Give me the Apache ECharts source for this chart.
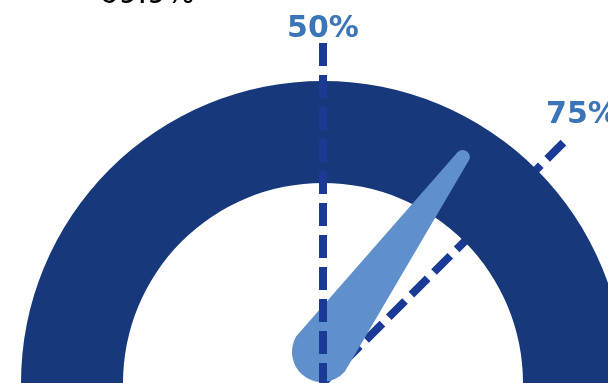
<!DOCTYPE html>
<html>
<head>
<meta charset="utf-8">
<script src="https://cdn.jsdelivr.net/npm/echarts@6/dist/echarts.min.js"></script>
<style>
html, body { margin: 0; padding: 0; background: #fff; }
#chart { width: 608px; height: 383px; }
</style>
</head>
<body>
<div id="chart"></div>
<script>
// gauge scale and values
var gaugeMin = 0;
var gaugeMax = 100;
var needleValue = [69.9];
var markValues = [50, 75];
var markLabels = ['50%', '75%'];

var center = [323, 383];
// tapered needle with round ends (tip at top, base circle at bottom)
var needlePath = 'path://M23.03 6.33A7 7 0 0 1 36.97 6.33L59.86 244.63A30 30 0 0 1 0.14 244.63Z';

// one dashed line + label per mark; labelShift pushes the text down by an empty line
function markSeries(i, z, labelDistance, labelShift) {
    var p = (markValues[i] - gaugeMin) / (gaugeMax - gaugeMin);
    return {
        type: 'gauge',
        z: z,
        center: center,
        radius: 340,
        min: gaugeMin,
        max: gaugeMax,
        startAngle: 180,
        endAngle: 0,
        splitNumber: 4,
        axisLine: {
            show: false,
            lineStyle: {
                width: 0,
                color: [[p - 0.01, 'rgba(0,0,0,0)'], [p + 0.01, '#1b3a96'], [1, 'rgba(0,0,0,0)']]
            }
        },
        splitLine: {
            show: true,
            distance: 0,
            length: 340,
            lineStyle: { color: 'auto', width: 8, type: [23, 9], cap: 'butt' }
        },
        axisTick: { show: false },
        axisLabel: {
            show: true,
            distance: labelDistance,
            color: '#3a75b8',
            fontSize: 30,
            fontWeight: 'bold',
            fontFamily: 'DejaVu Sans',
            lineHeight: labelShift ? labelShift * 2 : 36,
            formatter: function (v) {
                if (v !== markValues[i]) return '';
                return labelShift ? '\n' + markLabels[i] : markLabels[i];
            }
        },
        pointer: { show: false },
        anchor: { show: false },
        title: { show: false },
        detail: { show: false },
        data: [{ value: markValues[i] }]
    };
}

var chart = echarts.init(document.getElementById('chart'));
chart.setOption({
    animation: false,
    series: [
        markSeries(1, 1, -417, 27),
        {
            type: 'gauge',
            z: 2,
            center: center,
            radius: 302,
            min: gaugeMin,
            max: gaugeMax,
            startAngle: 180,
            endAngle: 0,
            axisLine: { lineStyle: { width: 102, color: [[1, '#17387b']] } },
            splitLine: { show: false },
            axisTick: { show: false },
            axisLabel: { show: false },
            pointer: {
                icon: needlePath,
                length: 277.5,
                width: 60,
                offsetCenter: [-19, 5.5],
                itemStyle: { color: '#5f90cc' }
            },
            anchor: { show: false },
            title: { show: false },
            detail: {
                offsetCenter: [-176, -388],
                formatter: function (v) { return v.toFixed(1) + '%'; },
                fontSize: 30,
                fontWeight: 'normal',
                fontFamily: 'DejaVu Sans',
                color: '#000',
                valueAnimation: false
            },
            data: [{ value: needleValue[0] }]
        },
        markSeries(0, 3, -372, 0)
    ]
});
</script>
</body>
</html>
